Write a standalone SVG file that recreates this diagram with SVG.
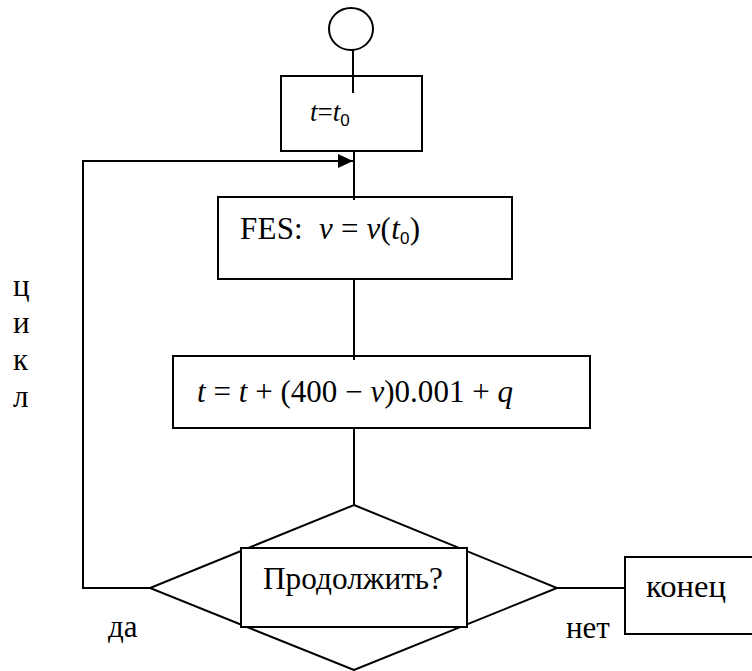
<svg xmlns="http://www.w3.org/2000/svg" width="752" height="671" viewBox="0 0 752 671">
<style>
.s{fill:none;stroke:#000;stroke-width:2}
.b{fill:#fff;stroke:#000;stroke-width:2}
text{font-family:"Liberation Serif","Times New Roman",serif;font-size:31px;fill:#000}
.i{font-style:italic}
.sub{font-family:"Liberation Sans",Arial,sans-serif;font-size:17px;font-style:normal}
</style>
<defs>
<marker id="ah" markerWidth="16" markerHeight="14" refX="15" refY="7" orient="auto" markerUnits="userSpaceOnUse">
<polygon points="0,0 15,7 0,14" fill="#000"/>
</marker>
</defs>
<rect width="752" height="671" fill="#fff"/>
<g id="connectors">
<line class="s" x1="353" y1="50" x2="353" y2="93"/>
<polyline class="s" points="150,588 83,588 83,161 353,161" marker-end="url(#ah)"/>
<line class="s" x1="354" y1="151" x2="354" y2="200"/>
<line class="s" x1="354" y1="279" x2="354" y2="360"/>
<line class="s" x1="354" y1="428" x2="354" y2="505"/>
<line class="s" x1="557" y1="588" x2="625" y2="588"/>
</g>
<g id="start">
<ellipse class="s" cx="351" cy="29" rx="22" ry="21"/>
</g>
<g id="init">
<rect class="s" x="281" y="76" width="141" height="75"/>
<text x="310" y="121" font-family="Liberation Serif, serif" style="font-size:27px"><tspan class="i">t</tspan>=<tspan class="i">t</tspan><tspan class="sub" dy="5">0</tspan></text>
</g>
<g id="fes">
<rect class="s" x="218" y="197" width="294" height="82"/>
<text x="240" y="239" font-family="Liberation Serif, serif" textLength="180" lengthAdjust="spacing" xml:space="preserve">FES:  <tspan class="i">v</tspan> = <tspan class="i">v</tspan>(<tspan class="i">t</tspan><tspan class="sub" dy="5">0</tspan><tspan dy="-5">)</tspan></text>
</g>
<g id="update">
<rect class="s" x="173" y="356" width="417" height="72"/>
<text x="197" y="402" font-family="Liberation Serif, serif" textLength="316" lengthAdjust="spacing" xml:space="preserve"><tspan class="i">t</tspan> = <tspan class="i">t</tspan> + (400 − <tspan class="i">v</tspan>)0.001 + <tspan class="i">q</tspan></text>
</g>
<g id="decision">
<polygon class="s" points="354,505 557,588 354,670 150,588"/>
<rect class="b" x="241" y="548" width="226" height="79"/>
<text x="263" y="589" font-family="Liberation Serif, serif" textLength="180" lengthAdjust="spacingAndGlyphs">Продолжить?</text>
</g>
<g id="end">
<rect class="s" x="625" y="557" width="140" height="77"/>
<text x="646" y="597" font-family="Liberation Serif, serif" textLength="80" lengthAdjust="spacingAndGlyphs">конец</text>
</g>
<g id="labels">
<text x="13" y="296" font-family="Liberation Serif, serif">ц</text>
<text x="13" y="333" font-family="Liberation Serif, serif">и</text>
<text x="13" y="370" font-family="Liberation Serif, serif">к</text>
<text x="13" y="407" font-family="Liberation Serif, serif">л</text>
<text x="108" y="637" font-family="Liberation Serif, serif">да</text>
<text x="566" y="638" font-family="Liberation Serif, serif">нет</text>
</g>
</svg>
